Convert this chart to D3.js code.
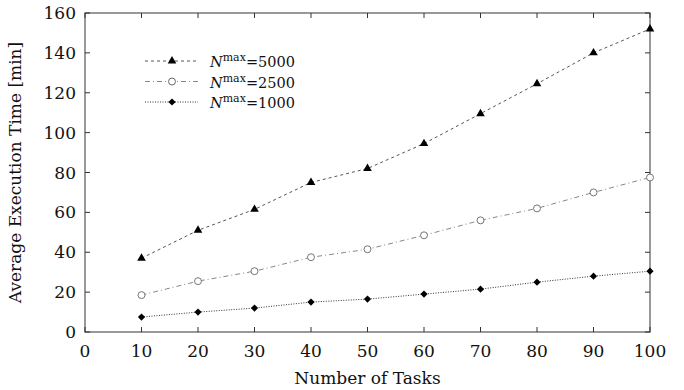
<!DOCTYPE html>
<html>
<head>
<meta charset="utf-8">
<script src="https://cdn.jsdelivr.net/npm/d3@7"></script>
<style>
  body { margin: 0; background: #fff; }
  svg text { font-family: "DejaVu Serif", "Liberation Serif", serif; fill: #111; }
</style>
</head>
<body>
<svg id="chart" width="684" height="390"></svg>
<script>
// data
const tasks = [10, 20, 30, 40, 50, 60, 70, 80, 90, 100];
const n5000 = [37, 51, 61.5, 75, 82, 94.5, 109.5, 124.5, 140, 152];
const n2500 = [18.5, 25.5, 30.5, 37.5, 41.5, 48.5, 56, 62, 70, 77.5];
const n1000 = [7.5, 10, 12, 15, 16.5, 19, 21.5, 25, 28, 30.5];
const xTicks = [0, 10, 20, 30, 40, 50, 60, 70, 80, 90, 100];
const yTicks = [0, 20, 40, 60, 80, 100, 120, 140, 160];
const seriesNames = ['5000', '2500', '1000'];

const margin = {top: 13, right: 34, bottom: 58, left: 85};
const width = 684 - margin.left - margin.right;
const height = 390 - margin.top - margin.bottom;

const svg = d3.select('#chart');
const g = svg.append('g').attr('transform', `translate(${margin.left},${margin.top})`);

const x = d3.scaleLinear().domain([0, 100]).range([0, width]);
const y = d3.scaleLinear().domain([0, 160]).range([height, 0]);

// frame
g.append('rect')
  .attr('width', width).attr('height', height)
  .attr('fill', 'none').attr('stroke', '#555').attr('stroke-width', 1.2);

// inward ticks on all four sides
const tickLen = 5;
g.append('g').selectAll('line').data(xTicks).enter().append('line')
  .attr('x1', d => x(d)).attr('x2', d => x(d))
  .attr('y1', height).attr('y2', height - tickLen)
  .attr('stroke', '#333');
g.append('g').selectAll('line').data(xTicks).enter().append('line')
  .attr('x1', d => x(d)).attr('x2', d => x(d))
  .attr('y1', 0).attr('y2', tickLen)
  .attr('stroke', '#333');
g.append('g').selectAll('line').data(yTicks).enter().append('line')
  .attr('x1', 0).attr('x2', tickLen)
  .attr('y1', d => y(d)).attr('y2', d => y(d))
  .attr('stroke', '#333');
g.append('g').selectAll('line').data(yTicks).enter().append('line')
  .attr('x1', width).attr('x2', width - tickLen)
  .attr('y1', d => y(d)).attr('y2', d => y(d))
  .attr('stroke', '#333');

// tick labels
g.append('g').selectAll('text').data(xTicks).enter().append('text')
  .attr('x', d => x(d)).attr('y', height + 25)
  .attr('text-anchor', 'middle').attr('font-size', 17)
  .text(d => d);
g.append('g').selectAll('text').data(yTicks).enter().append('text')
  .attr('x', -9).attr('y', d => y(d) + 6)
  .attr('text-anchor', 'end').attr('font-size', 17)
  .text(d => d);

// axis titles
g.append('text')
  .attr('x', width / 2).attr('y', height + 52)
  .attr('text-anchor', 'middle').attr('font-size', 17)
  .text('Number of Tasks');
g.append('text')
  .attr('transform', `translate(${-64},${height / 2}) rotate(-90)`)
  .attr('text-anchor', 'middle').attr('font-size', 17)
  .text('Average Execution Time [min]');

const line = d3.line().x((d, i) => x(tasks[i])).y(d => y(d));

const series = [
  {name: seriesNames[0], values: n5000, dash: '3,3', stroke: '#555', sym: d3.symbolTriangle, fill: '#000', size: 32, rot: 0},
  {name: seriesNames[1], values: n2500, dash: '5,3,1,3', stroke: '#888', sym: d3.symbolCircle, fill: '#fff', size: 38, rot: 0},
  {name: seriesNames[2], values: n1000, dash: '1,1.5', stroke: '#333', sym: d3.symbolSquare, fill: '#000', size: 26, rot: 45}
];

series.forEach(s => {
  g.append('path')
    .datum(s.values)
    .attr('d', line)
    .attr('fill', 'none')
    .attr('stroke', s.stroke)
    .attr('stroke-width', 1)
    .attr('stroke-dasharray', s.dash);
  g.append('g').selectAll('path').data(s.values).enter().append('path')
    .attr('transform', (d, i) => `translate(${x(tasks[i])},${y(d)}) rotate(${s.rot})`)
    .attr('d', d3.symbol().type(s.sym).size(s.size))
    .attr('fill', s.fill)
    .attr('stroke', s.fill === '#fff' ? '#666' : 'none')
    .attr('stroke-width', 0.9);
});

// legend
const legend = g.append('g').attr('transform', 'translate(60,48)');
series.forEach((s, i) => {
  const row = legend.append('g').attr('transform', `translate(0,${i * 20.5})`);
  row.append('line')
    .attr('x1', 0).attr('x2', 53).attr('y1', 0).attr('y2', 0)
    .attr('stroke', s.stroke).attr('stroke-dasharray', s.dash);
  row.append('path')
    .attr('transform', `translate(27,0) rotate(${s.rot})`)
    .attr('d', d3.symbol().type(s.sym).size(s.size))
    .attr('fill', s.fill)
    .attr('stroke', s.fill === '#fff' ? '#666' : 'none');
  const t = row.append('text').attr('x', 65).attr('y', 6).attr('font-size', 14.5);
  t.append('tspan').attr('font-style', 'italic').text('N');
  t.append('tspan').attr('dy', -6).attr('font-size', 11).text('max');
  t.append('tspan').attr('dy', 6).text('=' + s.name);
});
</script>
</body>
</html>
